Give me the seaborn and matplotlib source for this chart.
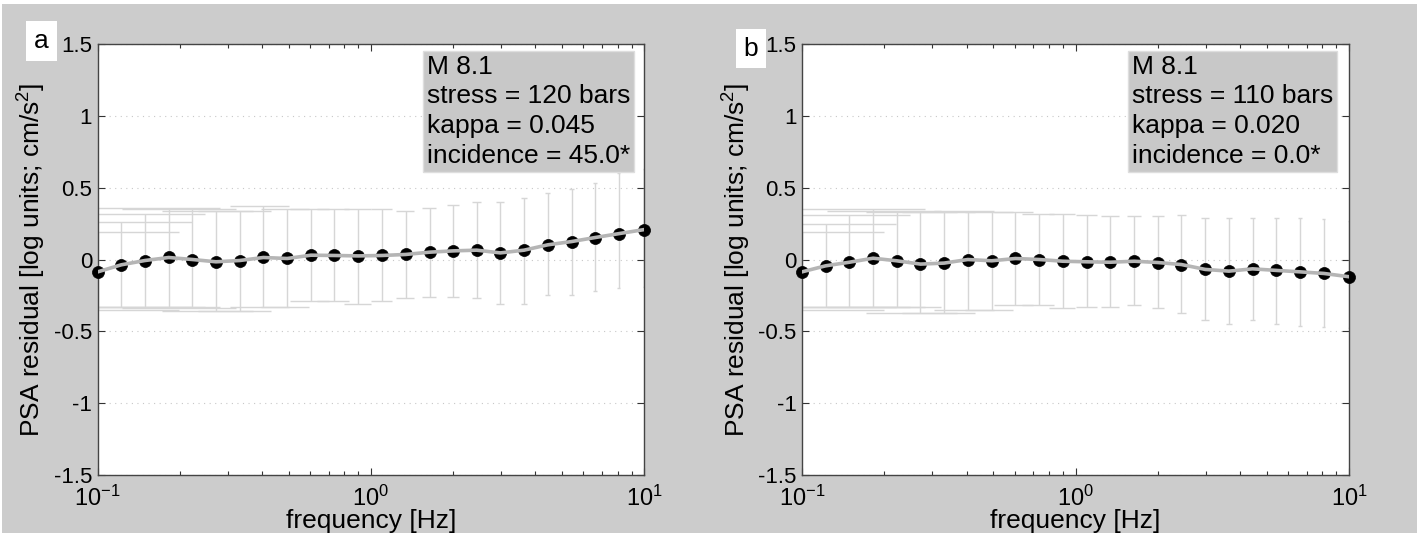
import numpy as np
import pandas as pd
import matplotlib
matplotlib.use("Agg")
import matplotlib.pyplot as plt
import seaborn as sns
from matplotlib.patches import Rectangle
from matplotlib.ticker import LogLocator, NullFormatter

# ---------------- data ----------------
freq = [0.1, 0.122, 0.149, 0.182, 0.222, 0.271, 0.331, 0.404, 0.494, 0.603,
        0.736, 0.899, 1.10, 1.34, 1.64, 2.00, 2.44, 2.98, 3.64, 4.44,
        5.43, 6.63, 8.09, 10.0]

resid_a = [-0.086, -0.037, -0.007, 0.014, 0.0, -0.016, -0.007, 0.014, 0.007, 0.030,
           0.028, 0.025, 0.028, 0.035, 0.051, 0.060, 0.065, 0.046, 0.065, 0.102,
           0.125, 0.153, 0.180, 0.208]
upper_a = [0.19, 0.26, 0.32, 0.36, 0.35, 0.34, 0.34, 0.37, 0.35, 0.35,
           0.35, 0.35, 0.35, 0.34, 0.36, 0.38, 0.40, 0.40, 0.43, 0.46,
           0.49, 0.53, 0.60, 0.63]
lower_a = [-0.35, -0.33, -0.33, -0.33, -0.34, -0.36, -0.36, -0.33, -0.33, -0.29,
           -0.29, -0.31, -0.29, -0.27, -0.26, -0.26, -0.27, -0.31, -0.31, -0.25,
           -0.25, -0.22, -0.20, -0.19]

resid_b = [-0.086, -0.044, -0.019, 0.009, -0.009, -0.032, -0.025, 0.0, -0.009, 0.007,
           0.0, -0.012, -0.016, -0.019, -0.012, -0.021, -0.035, -0.069, -0.081, -0.065,
           -0.076, -0.086, -0.097, -0.120]
upper_b = [0.19, 0.25, 0.31, 0.35, 0.34, 0.33, 0.33, 0.34, 0.33, 0.33,
           0.32, 0.32, 0.31, 0.30, 0.30, 0.30, 0.31, 0.29, 0.29, 0.29,
           0.29, 0.29, 0.285, 0.27]
lower_b = [-0.35, -0.33, -0.33, -0.33, -0.33, -0.375, -0.375, -0.35, -0.35, -0.32,
           -0.32, -0.34, -0.33, -0.33, -0.32, -0.34, -0.37, -0.42, -0.45, -0.42,
           -0.45, -0.46, -0.47, -0.48]

panel_labels = ["a", "b"]
info_texts = ["M 8.1\nstress = 120 bars\nkappa = 0.045\nincidence = 45.0*",
              "M 8.1\nstress = 110 bars\nkappa = 0.020\nincidence = 0.0*"]
yticks = [-1.5, -1, -0.5, 0, 0.5, 1, 1.5]
ytick_labels = ["-1.5", "-1", "-0.5", "0", "0.5", "1", "1.5"]
xlabel = "frequency [Hz]"
ylabel = "PSA residual [log units; cm/s$^2$]"

# ---------------- style ----------------
sns.set_style("ticks")
plt.rcParams['font.family'] = ['Liberation Sans', 'DejaVu Sans']
plt.rcParams['mathtext.fontset'] = 'custom'
plt.rcParams['mathtext.rm'] = 'Liberation Sans'
plt.rcParams['mathtext.it'] = 'Liberation Sans'
plt.rcParams['axes.unicode_minus'] = False
plt.rcParams['text.color'] = 'black'
plt.rcParams['axes.labelcolor'] = 'black'

fig = plt.figure(figsize=(14.24, 5.36), dpi=100, facecolor='white')
W, H = 1424, 536
bg = Rectangle((2 / W, 3 / H), (1417 - 2) / W, (533 - 4) / H,
               transform=fig.transFigure, facecolor='#cccccc',
               edgecolor='none', zorder=-10)
fig.patches.append(bg)

axes_px = [(97.7, 644.0), (802.0, 1349.0)]
top_px, bot_px = 44.0, 475.0
label_pos = [(41.5, 41.0), (751.0, 48.5)]

datasets = [(resid_a, upper_a, lower_a), (resid_b, upper_b, lower_b)]

f = np.array(freq)
tee = (f.max() - f.min()) / 100.0

for i, ((x0, x1), (res, up, lo)) in enumerate(zip(axes_px, datasets)):
    ax = fig.add_axes([x0 / W, (H - bot_px) / H, (x1 - x0) / W, (bot_px - top_px) / H])
    ax.set_zorder(1)
    ax.set_facecolor('white')
    ax.set_xscale('log')

    # error bars (MATLAB style, linear cap width)
    ax.vlines(f, lo, up, color='#d6d6d6', lw=1.0, zorder=1)
    ax.hlines(up, f - tee, f + tee, color='#d6d6d6', lw=1.0, zorder=1)
    ax.hlines(lo, f - tee, f + tee, color='#d6d6d6', lw=1.0, zorder=1)

    df = pd.DataFrame({"freq": freq, "resid": res})
    sns.scatterplot(data=df, x="freq", y="resid", ax=ax, color='black', s=75,
                    edgecolor='black', linewidth=0.5, zorder=3, clip_on=False)
    sns.lineplot(data=df, x="freq", y="resid", ax=ax, color='#b5b5b5', lw=2.6,
                 sort=False, estimator=None, zorder=4)

    ax.set_xlim(0.1, 10)
    ax.set_ylim(-1.5, 1.5)
    ax.set_yticks(yticks)
    ax.set_yticklabels(ytick_labels)
    ax.xaxis.set_major_locator(LogLocator(base=10, numticks=10))
    ax.xaxis.set_minor_locator(LogLocator(base=10, subs=np.arange(2, 10), numticks=20))
    ax.xaxis.set_minor_formatter(NullFormatter())

    ax.yaxis.grid(True, linestyle=(0, (1, 4)), color='#c8c8c8', lw=0.8)
    ax.xaxis.grid(False)
    ax.set_axisbelow(True)

    ax.tick_params(axis='both', which='both', direction='in', top=True, right=True,
                   colors='#333333', labelcolor='black')
    ax.tick_params(axis='y', which='major', length=5, width=0.8, labelsize=16, pad=4)
    ax.tick_params(axis='x', which='major', length=5, width=0.8, labelsize=17, pad=8)
    ax.tick_params(axis='x', which='minor', length=3, width=0.8)
    for s in ax.spines.values():
        s.set_color('#444444')
        s.set_linewidth(1.0)

    ax.set_xlabel(xlabel, fontsize=19, labelpad=-2)
    ax.set_ylabel(ylabel, fontsize=19, labelpad=4)

    ax.text(0.603, 0.975, info_texts[i], transform=ax.transAxes, ha='left', va='top',
            fontsize=19, linespacing=1.3, zorder=6,
            bbox=dict(boxstyle='square,pad=0.15', facecolor='#c8c8c8', edgecolor='#dedede', lw=1))

    lx, ly = label_pos[i]
    fig.text(lx / W, 1 - ly / H, panel_labels[i], ha='center', va='center', fontsize=19,
             zorder=5,
             bbox=dict(boxstyle='square,pad=0.3', facecolor='white', edgecolor='none'))

fig.savefig("out.png", dpi=100, facecolor=fig.get_facecolor())
